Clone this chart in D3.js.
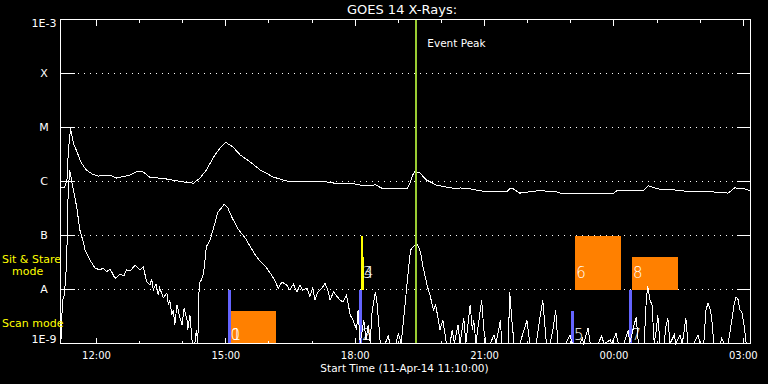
<!DOCTYPE html>
<html>
<head>
<meta charset="utf-8">
<script src="https://cdn.jsdelivr.net/npm/d3@7"></script>
<style>
  html, body { margin: 0; padding: 0; background: #000; }
  svg { display: block; }
  text { font-family: "DejaVu Sans", sans-serif; fill: #fff; }
</style>
</head>
<body>
<svg id="chart" width="768" height="384"></svg>
<script>
// time window of the plot
const startTime = "2014-04-11T11:10:00Z";
const endTime = "2014-04-12T03:10:00Z";
const eventPeakTime = "2014-04-11T19:25:00Z";

// flare class levels on the log axis
const levelValues = [1e-9, 1e-8, 1e-7, 1e-6, 1e-5, 1e-4, 1e-3];
const levelLabels = ["1E-9", "A", "B", "C", "M", "X", "1E-3"];

// [minutes after start, flux W/m^2] - long channel (1-8 A)
const longChannel = [
  [0, 7.5e-7], [6, 7.9e-7], [9, 1.07e-6], [11, 3.8e-6], [14, 9.7e-6], [18, 5.1e-6],
  [22, 3.8e-6], [29, 2.2e-6], [36, 1.63e-6], [44, 1.38e-6], [53, 1.26e-6], [69, 1.32e-6],
  [78, 1.16e-6], [97, 1.32e-6], [106, 1.52e-6], [115, 1.5e-6], [124, 1.21e-6], [148, 1.11e-6],
  [171, 9.8e-7], [185, 9.3e-7], [194, 1.16e-6], [203, 1.63e-6], [213, 2.84e-6], [222, 4.17e-6],
  [230, 5.3e-6], [240, 4.35e-6], [250, 3.1e-6], [264, 2.3e-6], [278, 1.63e-6], [296, 1.21e-6],
  [315, 1.02e-6], [342, 1.0e-6], [370, 9.8e-7], [389, 9.0e-7], [403, 9.4e-7], [417, 8.6e-7],
  [431, 8.25e-7], [438, 8.8e-7], [444, 7.9e-7], [449, 7.3e-7], [472, 7.3e-7], [482, 7.3e-7],
  [486, 9.0e-7], [490, 1.32e-6], [493, 1.52e-6], [500, 1.44e-6], [509, 1.07e-6], [523, 8.6e-7],
  [537, 7.9e-7], [551, 7.3e-7], [556, 7.6e-7], [570, 7.3e-7], [584, 6.7e-7], [602, 6.4e-7],
  [621, 6.4e-7], [625, 7.4e-7], [630, 7.3e-7], [639, 6.1e-7], [667, 6.8e-7], [690, 6.4e-7],
  [700, 5.9e-7], [737, 5.9e-7], [769, 6.0e-7], [774, 6.7e-7], [811, 6.8e-7], [818, 8.35e-7],
  [830, 7.3e-7], [853, 7.0e-7], [880, 6.4e-7], [908, 6.4e-7], [929, 6.1e-7], [938, 7.6e-7],
  [950, 7.4e-7], [960, 6.7e-7]
];

// [minutes after start, flux W/m^2] - short channel (0.5-4 A)
const shortChannel = [
  [0.7, 1.2e-9], [2.8, 6.4e-9], [4.9, 7.5e-9], [7, 1.5e-8], [8.6, 3.5e-8], [10.4, 4.5e-7],
  [12.5, 1.6e-6], [13.9, 1.4e-6], [17, 8.0e-7], [22.5, 3.4e-7], [27, 1.26e-7], [32, 7.3e-8],
  [34, 5.4e-8], [41, 3.5e-8], [48, 2.5e-8], [55, 2.3e-8], [59, 2.5e-8], [64, 2.14e-8],
  [69, 2.4e-8], [76, 1.6e-8], [83, 1.94e-8], [88, 1.78e-8], [92, 2.3e-8], [97, 2.2e-8],
  [104, 2.84e-8], [111, 2.3e-8], [115, 2.64e-8], [120, 1.39e-8], [124.5, 1.21e-8], [127, 1.57e-8],
  [129, 9.8e-9], [133, 1.26e-8], [136, 7.9e-9], [138, 1.07e-8], [143, 7.0e-9], [148, 8.6e-9],
  [150, 5.2e-9], [152, 6.4e-9], [155, 3.4e-9], [157, 4.2e-9], [159, 2.2e-9], [162, 5.2e-9],
  [166, 3.1e-9], [169, 2.2e-9], [172, 4.5e-9], [176, 2.7e-9], [177, 1.8e-9], [180, 3.4e-9],
  [183, 1.16e-9], [184, 9e-10], [187, 9e-10], [189, 1.8e-9], [191, 9e-10], [193, 1.3e-8],
  [196, 1.5e-8], [199, 2.0e-8], [203, 6.2e-8], [208, 8.25e-8], [213, 1.38e-7], [219, 2.7e-7],
  [228, 3.8e-7], [233, 3.2e-7], [239, 2.1e-7], [247, 1.32e-7], [257, 9.0e-8], [264, 6.2e-8],
  [271, 4.35e-8], [278, 3.3e-8], [285, 2.7e-8], [292, 2.0e-8], [298, 1.5e-8], [303, 1.05e-8],
  [308, 1.38e-8], [315, 1.2e-8], [319, 9.8e-9], [324, 1.26e-8], [329, 9.0e-9], [333, 1.2e-8],
  [337, 9.8e-9], [343, 1.07e-8], [347, 7.5e-9], [351, 1.07e-8], [354, 6.4e-9], [358, 9.0e-9],
  [364, 1.07e-8], [368, 1.3e-8], [372, 9.8e-9], [375, 6.4e-9], [380, 9.0e-9], [383, 7.9e-9],
  [389, 6.4e-9], [393, 5.9e-9], [398, 7.9e-9], [403, 3.4e-9], [407, 2.7e-9], [412, 1.8e-9],
  [414, 4.2e-9], [417, 9e-10], [420, 1.8e-9], [422, 2.7e-9], [425, 1.16e-9], [428, 2.2e-9],
  [431, 9e-10], [433, 3.4e-9], [438, 9.1e-9], [440, 6.4e-9], [445, 9e-10], [452, 9e-10],
  [456, 1.44e-9], [458, 9e-10], [467, 9e-10], [470, 1.55e-9], [474, 9e-10], [480, 6.4e-9],
  [484, 2.3e-8], [487, 5.4e-8], [492, 6.4e-8], [497, 6.7e-8], [501, 4.9e-8], [504, 2.8e-8],
  [510, 1.2e-8], [514, 7.9e-9], [519, 4.2e-9], [522, 5.2e-9], [528, 1.8e-9], [532, 2.7e-9],
  [537, 9e-10], [542, 9e-10], [545, 1.78e-9], [548, 9e-10], [553, 2.2e-9], [556, 9e-10],
  [561, 3.0e-9], [564, 9e-10], [570, 5.2e-9], [573, 1.78e-9], [575, 2.7e-9], [578, 9e-10],
  [584, 4.2e-9], [586, 6.4e-9], [589, 1.78e-9], [592, 9e-10], [598, 9e-10], [603, 1.44e-9],
  [606, 9e-10], [612, 2.7e-9], [614, 9e-10], [623, 9e-10], [625, 9.0e-9], [628, 2.7e-9],
  [631, 9e-10], [639, 9e-10], [645, 1.78e-9], [649, 2.7e-9], [653, 9e-10], [662, 9e-10],
  [667, 3.0e-9], [671, 6.4e-9], [676, 9e-10], [681, 9e-10], [685, 1.78e-9], [689, 4.2e-9],
  [692, 9e-10], [703, 9e-10], [709, 1.44e-9], [712, 9e-10], [723, 9e-10], [726, 1.26e-9],
  [728, 9e-10], [734, 1.94e-9], [737, 9e-10], [748, 9e-10], [753, 1.38e-9], [756, 9e-10],
  [765, 1.16e-9], [767, 9e-10], [773, 1.55e-9], [776, 9e-10], [784, 9e-10], [790, 1.78e-9],
  [792, 9e-10], [798, 2.2e-9], [801, 3.1e-9], [804, 9e-10], [812, 9e-10], [815, 6.4e-9],
  [817, 1.16e-8], [820, 6.4e-9], [823, 5.2e-9], [826, 9e-10], [829, 1.78e-9], [831, 3.4e-9],
  [834, 9e-10], [840, 9e-10], [842, 1.94e-9], [845, 3.0e-9], [848, 9e-10], [854, 1.44e-9],
  [856, 9e-10], [862, 1.44e-9], [865, 9e-10], [868, 1.78e-9], [870, 3.0e-9], [873, 9e-10],
  [881, 9e-10], [887, 1.44e-9], [890, 9e-10], [895, 9e-10], [898, 4.2e-9], [901, 5.6e-9],
  [904, 4.2e-9], [906, 3.0e-9], [909, 9e-10], [918, 9e-10], [920, 1.26e-9], [923, 9e-10],
  [929, 9e-10], [934, 2.7e-9], [937, 5.2e-9], [940, 7.3e-9], [943, 6.4e-9], [945, 4.2e-9],
  [948, 3.8e-9], [951, 2.2e-9], [954, 9e-10], [960, 9e-10]
];

// scan mode markers (blue)
const scanIds = [0, 2, 5, 7];
const scanTimes = ["2014-04-11T15:05Z", "2014-04-11T18:08Z", "2014-04-11T23:03Z", "2014-04-12T00:23Z"];
const scanTops = [1e-8, 1e-8, 4e-9, 1e-8];

// sit & stare markers (yellow)
const stareIds = [3, 4];
const stareTimes = ["2014-04-11T18:09Z", "2014-04-11T18:11Z"];
const stareTops = [1e-7, 4e-8];

// observation boxes (orange)
const boxIds = [1, 6, 8];
const boxStarts = ["2014-04-11T15:07Z", "2014-04-11T23:06Z", "2014-04-12T00:25Z"];
const boxEnds = ["2014-04-11T16:10Z", "2014-04-12T00:10Z", "2014-04-12T01:29Z"];
const boxTops = [4e-9, 1e-7, 4e-8];
const boxBottoms = [1e-9, 1e-8, 1e-8];

const svg = d3.select("#chart");
const width = 768, height = 384;
const margin = { top: 19.5, right: 17.5, bottom: 40.5, left: 60.5 };
const t0 = new Date(startTime);
const atMinute = m => new Date(t0.getTime() + m * 60000);

const x = d3.scaleUtc()
  .domain([t0, new Date(endTime)])
  .range([margin.left, width - margin.right]);
const y = d3.scaleLog()
  .domain([1e-9, 1e-3])
  .range([height - margin.bottom, margin.top])
  .clamp(true);

svg.append("rect").attr("width", width).attr("height", height).attr("fill", "#000");

// dotted class lines
svg.append("g")
  .selectAll("line")
  .data(levelValues.slice(1, -1))
  .enter()
  .append("line")
  .attr("x1", 78).attr("x2", 736)
  .attr("y1", d => y(d)).attr("y2", d => y(d))
  .attr("stroke", "#fff")
  .attr("stroke-dasharray", "1 5")
  .attr("shape-rendering", "crispEdges");

// orange boxes
svg.append("g")
  .selectAll("rect")
  .data(boxIds.map((id, i) => ({ id, s: new Date(boxStarts[i]), e: new Date(boxEnds[i]), top: boxTops[i], bot: boxBottoms[i] })))
  .enter()
  .append("rect")
  .attr("x", d => x(d.s))
  .attr("width", d => x(d.e) - x(d.s))
  .attr("y", d => y(d.top))
  .attr("height", d => y(d.bot) - y(d.top))
  .attr("fill", "#ff8000")
  .attr("shape-rendering", "crispEdges");

// scan lines
svg.append("g")
  .selectAll("line")
  .data(scanTimes.map((t, i) => ({ t: new Date(t), top: scanTops[i] })))
  .enter()
  .append("line")
  .attr("x1", d => x(d.t)).attr("x2", d => x(d.t))
  .attr("y1", y(1e-9)).attr("y2", d => y(d.top))
  .attr("stroke", "#6464ff")
  .attr("stroke-width", 3)
  .attr("shape-rendering", "crispEdges");

// sit & stare lines
svg.append("g")
  .selectAll("line")
  .data(stareTimes.map((t, i) => ({ t: new Date(t), top: stareTops[i] })))
  .enter()
  .append("line")
  .attr("x1", d => x(d.t)).attr("x2", d => x(d.t))
  .attr("y1", y(1e-8)).attr("y2", d => y(d.top))
  .attr("stroke", "#ffff00")
  .attr("stroke-width", 2)
  .attr("shape-rendering", "crispEdges");

// flux curves
const line = d3.line()
  .x(d => x(atMinute(d[0])))
  .y(d => y(d[1]));

[longChannel, shortChannel].forEach(series => {
  svg.append("path")
    .datum(series)
    .attr("d", line)
    .attr("fill", "none")
    .attr("stroke", "#fff")
    .attr("stroke-width", 1)
    .attr("shape-rendering", "crispEdges");
});

// event peak
const peak = new Date(eventPeakTime);
svg.append("line")
  .attr("x1", x(peak)).attr("x2", x(peak))
  .attr("y1", y(1e-3)).attr("y2", y(1e-9))
  .attr("stroke", "#9acd32")
  .attr("stroke-width", 2)
  .attr("shape-rendering", "crispEdges");

svg.append("text")
  .attr("x", x(peak) + 11)
  .attr("y", 47)
  .attr("font-size", "10.5px")
  .text("Event Peak");

// marker numbers
const numLabels = [];
scanIds.forEach((id, i) => numLabels.push({ id, t: new Date(scanTimes[i]), band: "scan" }));
stareIds.forEach((id, i) => numLabels.push({ id, t: new Date(stareTimes[i]), band: "stare" }));
boxIds.forEach((id, i) => numLabels.push({ id, t: new Date(boxStarts[i]), band: boxBottoms[i] < 1e-8 ? "scan" : "stare" }));

svg.append("g")
  .selectAll("text")
  .data(numLabels)
  .enter()
  .append("text")
  .attr("x", d => x(d.t) + 1)
  .attr("y", d => d.band === "scan" ? y(1e-9) - 4 : y(1e-8) - 11.5)
  .attr("font-size", "15px")
  .attr("font-weight", 200)
  .text(d => d.id);

// frame
svg.append("rect")
  .attr("x", margin.left).attr("y", margin.top)
  .attr("width", width - margin.left - margin.right)
  .attr("height", height - margin.top - margin.bottom)
  .attr("fill", "none")
  .attr("stroke", "#fff")
  .attr("shape-rendering", "crispEdges");

function styleAxis(g) {
  g.select(".domain").remove();
  g.selectAll("line").attr("stroke", "#fff").attr("shape-rendering", "crispEdges");
  g.selectAll("text").attr("fill", "#fff").attr("font-family", null);
}

// time axes (bottom labelled, top ticks only)
const yBottom = height - margin.bottom;
svg.append("g")
  .attr("transform", `translate(0,${yBottom})`)
  .call(d3.axisBottom(x).ticks(d3.utcHour.every(1)).tickSize(-3).tickSizeOuter(0).tickFormat("").offset(0))
  .call(styleAxis);
svg.append("g")
  .attr("transform", `translate(0,${yBottom})`)
  .call(d3.axisBottom(x).ticks(d3.utcHour.every(3)).tickSize(-6).tickSizeOuter(0).tickPadding(8)
    .tickFormat(d3.utcFormat("%H:%M")).offset(0))
  .call(styleAxis)
  .attr("font-size", 10);
svg.append("g")
  .attr("transform", `translate(0,${margin.top})`)
  .call(d3.axisTop(x).ticks(d3.utcHour.every(1)).tickSize(-3).tickSizeOuter(0).tickFormat("").offset(0))
  .call(styleAxis);
svg.append("g")
  .attr("transform", `translate(0,${margin.top})`)
  .call(d3.axisTop(x).ticks(d3.utcHour.every(3)).tickSize(-6).tickSizeOuter(0).tickFormat("").offset(0))
  .call(styleAxis);

// flux axes
svg.append("g")
  .attr("transform", `translate(${margin.left},0)`)
  .call(d3.axisLeft(y).tickValues(levelValues).tickSize(-14).tickFormat((d, i) => levelLabels[i]).offset(0))
  .call(styleAxis)
  .attr("font-size", 11)
  .call(g => g.selectAll("text")
    .attr("text-anchor", "middle")
    .attr("x", -16.5)
    .attr("dy", (d, i) => i === 0 ? "-0.05em" : i === levelValues.length - 1 ? "0.67em" : "0.34em"));
svg.append("g")
  .attr("transform", `translate(${width - margin.right},0)`)
  .call(d3.axisRight(y).tickValues(levelValues.slice(1, -1)).tickSize(-14).tickFormat("").offset(0))
  .call(styleAxis);

// titles
svg.append("text")
  .attr("x", 402)
  .attr("y", 14)
  .attr("text-anchor", "middle")
  .attr("font-size", "13px")
  .text("GOES 14 X-Rays:");

svg.append("text")
  .attr("x", 404.5)
  .attr("y", 371.5)
  .attr("text-anchor", "middle")
  .attr("font-size", "10.5px")
  .text("Start Time (11-Apr-14 11:10:00)");

// mode labels
const modeText = svg.append("g").attr("font-size", "11px");
modeText.append("text").attr("x", 2).attr("y", 263).attr("fill", "#ffff00").style("fill", "#ffff00").text("Sit & Stare");
modeText.append("text").attr("x", 12).attr("y", 275).style("fill", "#ffff00").text("mode");
modeText.append("text").attr("x", 2).attr("y", 327).style("fill", "#ffff00").text("Scan mode");
</script>
</body>
</html>
